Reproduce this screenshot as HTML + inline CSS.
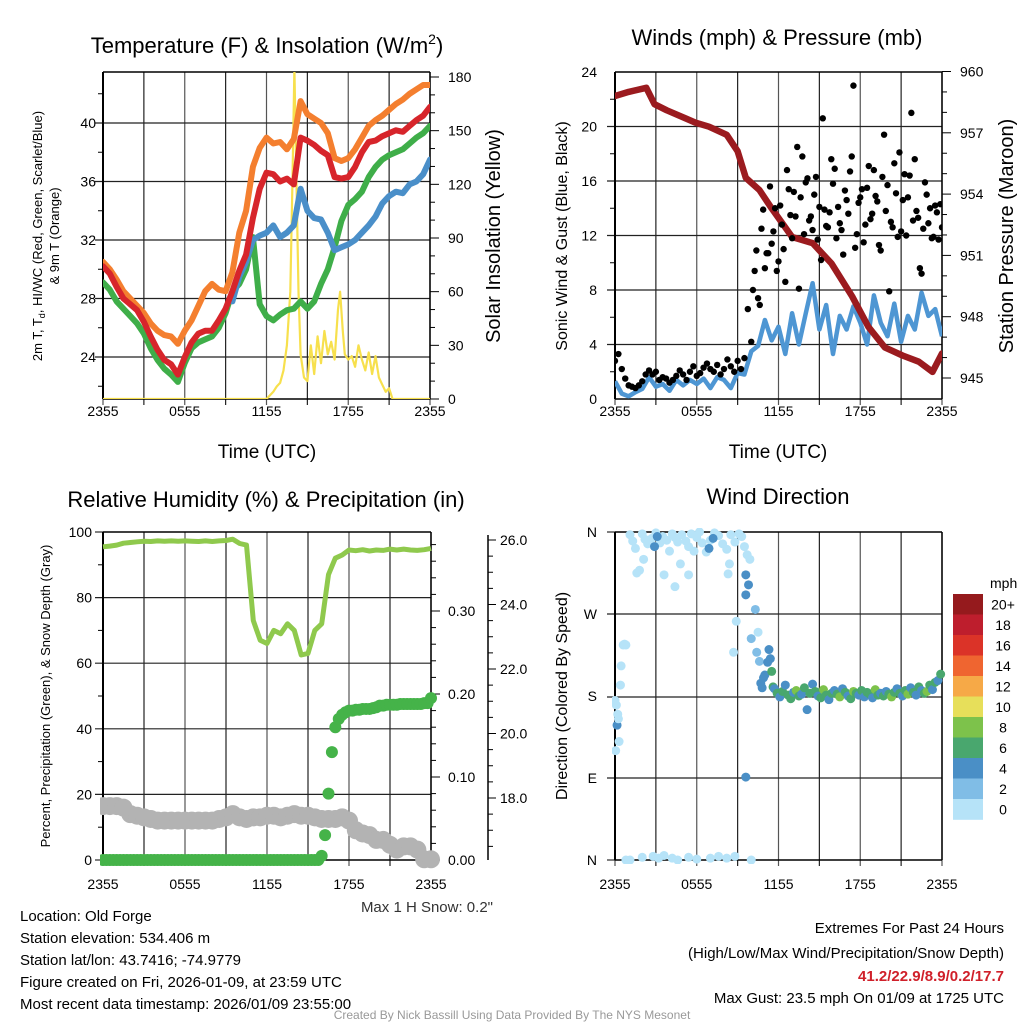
<!DOCTYPE html>
<html><head><meta charset="utf-8">
<style>
html,body{margin:0;padding:0;background:#fff;}
svg{display:block;font-family:"Liberation Sans",sans-serif;}
</style></head>
<body>
<svg id="chart" width="1024" height="1024" viewBox="0 0 1024 1024" xmlns="http://www.w3.org/2000/svg">
<defs>
<clipPath id="c1"><rect x="103" y="72" width="327" height="327"/></clipPath>
<clipPath id="c2"><rect x="615" y="72" width="327" height="327"/></clipPath>
<clipPath id="c3"><rect x="100" y="530" width="340" height="340"/></clipPath>
<clipPath id="c4"><rect x="612" y="528" width="335" height="336"/></clipPath>
</defs>
<g id="layer"></g>
<text x="267" y="53" font-size="22" text-anchor="middle">Temperature (F) &amp; Insolation (W/m<tspan dy="-9" font-size="14">2</tspan><tspan dy="9">)</tspan></text>
<text x="777" y="45" font-size="22" text-anchor="middle">Winds (mph) &amp; Pressure (mb)</text>
<text x="266" y="507" font-size="22" text-anchor="middle">Relative Humidity (%) &amp; Precipitation (in)</text>
<text x="778" y="504" font-size="22" text-anchor="middle">Wind Direction</text>
<text x="267" y="458" font-size="19" text-anchor="middle">Time (UTC)</text>
<text x="778" y="458" font-size="19" text-anchor="middle">Time (UTC)</text>
<text transform="translate(42,236) rotate(-90)" font-size="13" text-anchor="middle">2m T, T<tspan dy="3" font-size="9">d</tspan><tspan dy="-3">, HI/WC (Red, Green, Scarlet/Blue)</tspan></text>
<text transform="translate(59,236) rotate(-90)" font-size="13" text-anchor="middle">&amp; 9m T (Orange)</text>
<text transform="translate(500,236) rotate(-90)" font-size="20" text-anchor="middle">Solar Insolation (Yellow)</text>
<text transform="translate(567,236) rotate(-90)" font-size="16" text-anchor="middle">Sonic Wind &amp; Gust (Blue, Black)</text>
<text transform="translate(1013,236) rotate(-90)" font-size="20" text-anchor="middle">Station Pressure (Maroon)</text>
<text transform="translate(50,696) rotate(-90)" font-size="13" text-anchor="middle">Percent, Precipitation (Green), &amp; Snow Depth (Gray)</text>
<text transform="translate(567,696) rotate(-90)" font-size="16" text-anchor="middle">Direction (Colored By Speed)</text>
<text x="493" y="912" font-size="15" fill="#333" text-anchor="end">Max 1 H Snow: 0.2"</text>
<g font-size="15">
<text x="20" y="921">Location: Old Forge</text>
<text x="20" y="943">Station elevation: 534.406 m</text>
<text x="20" y="965">Station lat/lon: 43.7416; -74.9779</text>
<text x="20" y="987">Figure created on Fri, 2026-01-09, at 23:59 UTC</text>
<text x="20" y="1009">Most recent data timestamp: 2026/01/09 23:55:00</text>
</g>
<g font-size="15" text-anchor="end">
<text x="1004" y="933">Extremes For Past 24 Hours</text>
<text x="1004" y="958">(High/Low/Max Wind/Precipitation/Snow Depth)</text>
<text x="1004" y="981" fill="#d0202a" font-weight="bold">41.2/22.9/8.9/0.2/17.7</text>
<text x="1004" y="1003">Max Gust: 23.5 mph On 01/09 at 1725 UTC</text>
</g>
<text x="512" y="1019" font-size="12" fill="#999" text-anchor="middle">Created By Nick Bassill Using Data Provided By The NYS Mesonet</text>
</svg>
<script>
// ---------- data ----------
const xTickLabels = ["2355","0555","1155","1755","2355"];
const halfHours = [0,0.5,1,1.5,2,2.5,3,3.5,4,4.5,5,5.5,6,6.5,7,7.5,8,8.5,9,9.5,10,10.5,11,11.5,12,12.5,13,13.5,14,14.5,15,15.5,16,16.5,17,17.5,18,18.5,19,19.5,20,20.5,21,21.5,22,22.5,23,23.5,24];
const temp9m = [30.5,30,29.3,28.5,28,27.5,27,26.3,25.8,25.5,25.4,24.9,25.8,26.5,27.5,28.5,29,28.6,28.5,29.8,32.5,34,37,38.3,39,38.6,38.7,38.2,38.9,41.5,40.6,40.3,40,39.3,37.6,37.4,37.6,38.2,39,39.8,40.2,40.5,40.9,41.3,41.6,42,42.3,42.6,42.6];
const temp2m = [30.2,29.7,28.8,28,27.6,27.2,26.4,25.4,24.5,23.8,23.5,22.8,24,25,25.6,25.8,25.8,26.5,27.3,28.5,29.9,31,33.5,35.5,36.6,36.5,36,36.2,35.8,39,38.8,38.5,38.1,37.8,36.3,36.2,36.3,37,38,38.7,38.8,39.1,39.3,39.5,39.4,39.8,40.2,40.5,41.1];
const dewpoint = [29.1,28.6,27.8,27.3,26.8,26.3,25.6,24.6,23.8,23.2,22.8,22.3,23.6,24.6,25,25.2,25.4,26,27,28.5,29,30,32.2,27.6,26.8,26.5,26.9,27.2,27.3,27.8,27.3,27.8,29,30,31.5,33.3,34.4,34.8,35.3,36.3,37,37.5,37.8,38,38.2,38.6,39,39.3,39.8];
const windChill = [null,null,null,null,null,null,null,null,null,null,null,null,null,null,null,null,null,null,null,27.8,29.5,30.5,32,32.3,32.5,33,32.2,32.5,33,35.5,34,33.5,33.4,32.5,31.3,31.5,31.7,32,32.5,33,33.6,34.5,35,35.3,35.2,35.8,36,36.5,37.5];
const solarHours = [0,12,12.25,12.5,12.75,13,13.25,13.5,13.75,13.9,14.05,14.2,14.35,14.5,14.75,15,15.25,15.5,15.75,16,16.25,16.5,16.75,17,17.25,17.4,17.6,17.75,18,18.25,18.5,18.75,19,19.25,19.5,19.75,20,20.25,20.5,20.75,21,21.25,21.5,24];
const solar = [0,0,2,4,7,9,16,30,60,120,185,120,60,25,12,10,30,14,35,20,38,25,32,22,50,60,38,25,22,24,18,30,22,16,26,14,24,12,8,4,6,0,0,0];
const windSpeed = [1.3,0.4,0.2,0.5,0.75,1.6,0.9,1.1,0.6,1.4,1.0,1.4,1.1,1.5,0.8,1.6,1.4,0.8,1.9,1.8,3.5,3.9,5.8,4.3,5.3,3.3,6.3,4.0,6.3,8.5,5.1,6.9,3.3,6.1,5.1,6.8,5.6,4.0,7.6,5.6,4.6,7.0,4.2,6.1,5.1,7.8,6.1,6.6,4.6];
const pressureHours = [0,1,2.3,2.9,3.8,5.2,5.9,6.9,8.2,9.0,9.6,10.6,11.5,13.0,14.5,15.9,17.4,18.6,19.8,21.1,22.3,23.3,24];
const pressure = [958.8,959.0,959.2,958.4,958.1,957.7,957.5,957.3,956.9,956.1,954.8,954.2,953.3,951.9,951.6,950.6,949.0,947.5,946.5,946.1,945.8,945.3,946.2];
const gustHours1 = [0,0.25,0.5,0.75,1,1.25,1.5,1.75,2,2.25,2.5,2.75,3,3.25,3.5,3.75,4,4.25,4.5,4.75,5,5.25,5.5,5.75,6,6.25,6.5,6.75,7,7.25,7.5,7.75,8,8.25,8.5,8.75,9,9.25,9.5,9.75,10,10.25,10.5,10.75,11,11.25,11.5,11.75,12,12.25,12.5,12.75,13,13.25,13.5,13.75,14,14.25,14.5,14.75,15,15.25,15.5,15.75,16,16.25,16.5,16.75,17,17.25,17.5,17.75,18,18.25,18.5,18.75,19,19.25,19.5,19.75,20,20.25,20.5,20.75,21,21.25,21.5,21.75,22,22.25,22.5,22.75,23,23.25,23.5,23.75,24];
const gust1 = [2.8,3.3,2.2,1.5,1.0,0.9,0.8,1.0,1.3,1.8,2.1,1.8,2.0,1.4,1.6,1.5,1.2,1.4,1.7,2.1,1.8,1.4,2.0,2.4,1.7,1.9,2.3,2.6,2.2,2.0,2.5,1.8,2.2,2.9,2.4,2.0,2.8,2.2,3.0,6.6,4.2,9.4,7.4,12.5,9.6,10.7,11.4,14.0,10.1,12.8,8.6,15.4,11.8,13.4,8.1,17.8,15.9,13.1,12.4,16.3,14.1,20.6,12.7,13.7,15.8,11.8,12.9,10.6,14.6,16.7,23.0,12.1,14.8,11.5,15.5,13.2,16.8,14.5,10.9,19.4,15.7,13.0,17.3,11.9,12.3,16.5,14.8,21.0,17.6,13.3,9.2,15.9,12.9,11.8,14.2,11.7,12.6];
const gustHours2 = [10.125,10.375,10.625,10.875,11.125,11.375,11.625,11.875,12.125,12.375,12.625,12.875,13.125,13.375,13.625,13.875,14.125,14.375,14.625,14.875,15.125,15.375,15.625,15.875,16.125,16.375,16.625,16.875,17.125,17.375,17.625,17.875,18.125,18.375,18.625,18.875,19.125,19.375,19.625,19.875,20.125,20.375,20.625,20.875,21.125,21.375,21.625,21.875,22.125,22.375,22.625,22.875,23.125,23.375,23.625,23.875];
const gust2 = [8.0,10.9,6.9,13.9,10.7,15.6,12.3,9.4,14.2,11.0,16.8,13.5,15.2,18.5,14.8,12.1,16.2,13.4,15.0,11.7,10.2,13.9,12.6,17.6,16.9,14.1,12.4,15.3,13.6,17.8,11.1,14.4,15.4,12.8,17.1,13.6,14.9,11.3,16.3,13.8,7.9,12.6,15.1,18.1,14.6,12.0,16.4,13.1,13.8,9.6,12.5,15.0,14.0,11.9,13.7,14.3];
const rh = [95.5,95.7,96,96.6,96.8,97,97.2,97.1,97.3,97.2,97.3,97.2,97.3,97.2,97.1,97.3,97.1,97.3,97.4,97.8,96.5,96,73,67,66,70,69,72,70,62.5,63,70,72,87,92,93,94.5,94.3,94.6,94.2,94.5,94.4,94.8,94.5,94.8,94.5,94.4,94.6,95];
const snowDepth = [17.75,17.75,17.75,17.7,17.5,17.45,17.4,17.35,17.3,17.3,17.3,17.3,17.3,17.3,17.3,17.3,17.3,17.35,17.4,17.5,17.4,17.35,17.4,17.4,17.45,17.45,17.4,17.45,17.5,17.45,17.45,17.4,17.35,17.35,17.35,17.4,17.3,17.0,16.9,16.85,16.7,16.7,16.55,16.4,16.5,16.5,16.4,16.1,16.1];
const precip = [0,0,0,0,0,0,0,0,0,0,0,0,0,0,0,0,0,0,0,0,0,0,0,0,0,0,0,0,0,0,0,0,0,0,0,0,0,0,0,0,0,0,0,0,0,0,0,0,0,0,0,0,0,0,0,0,0,0,0,0,0,0,0,0,0.005,0.03,0.08,0.13,0.16,0.17,0.175,0.178,0.18,0.18,0.181,0.181,0.182,0.182,0.182,0.183,0.184,0.186,0.186,0.187,0.187,0.187,0.187,0.188,0.188,0.188,0.188,0.188,0.188,0.188,0.189,0.189,0.195];
const dirHours = [0.0,0.1,0.15,0.2,0.25,0.3,0.05,0.4,0.45,0.6,0.7,0.8,
1.1,1.3,1.5,2.0,2.2,2.4,2.7,3.0,3.3,3.5,3.8,4.0,4.2,4.4,4.6,4.9,5.2,5.4,5.6,5.8,6.0,6.2,6.4,6.7,7.0,7.3,7.6,7.9,8.2,8.5,8.8,9.1,9.3,9.5,9.7,9.9,8.4,4.8,3.6,5.4,2.1,1.8,1.6,4.4,8.3,10.0,8.9,8.7,
3.1,2.9,7.2,6.9,9.6,9.8,9.6,9.6,
0.8,1.1,2.0,2.8,3.2,3.6,4.2,4.6,5.4,6.0,7.0,7.6,8.2,8.8,10.0,
10.3,10.5,10.4,10.6,11.3,11.4,11.2,11.0,10.9,10.7,10.8,11.5,11.6,
11.7,11.9,12.1,12.3,12.5,12.7,12.9,13.1,13.3,13.5,13.7,13.9,14.1,14.3,14.5,14.7,14.9,15.1,15.3,15.5,15.7,15.9,16.1,16.3,16.5,16.7,16.9,17.1,17.3,17.5,17.7,17.9,18.1,18.3,18.5,18.7,18.9,19.1,19.3,19.5,19.7,19.9,20.1,20.3,20.5,20.7,20.9,21.1,21.3,21.5,21.7,21.9,22.1,22.3,22.5,22.7,22.9,23.1,23.3,23.5,23.7,23.9];
const dirDeg = [175,170,148,160,155,130,120,192,213,236,237,236,
357,350,342,358,352,347,353,359,348,355,351,339,358,354,349,357,350,344,358,339,354,360,348,338,351,359,356,347,341,357,349,358,355,344,335,330,325,325,313,313,330,318,315,300,314,243,262,228,
355,344,353,342,313,302,291,91,
0,0,3,4,2,5,2,0,3,1,2,4,2,4,0,
275,250,228,218,231,221,217,203,200,194,189,207,190,
188,183,179,185,192,181,177,184,186,180,182,189,165,183,193,185,180,178,187,181,176,183,186,182,179,188,184,180,177,185,183,181,186,179,184,182,178,187,181,183,180,185,182,179,184,188,183,180,186,182,189,184,181,190,186,183,185,192,187,195,197,204];
const dirSpeed = [0,0,4,0,0,0,0,0,0,0,0,0,
0,0,0,0,0,0,0,0,0,0,0,0,0,0,0,0,0,0,0,0,0,0,0,0,0,0,0,0,0,0,0,0,0,0,0,0,0,0,0,0,0,0,0,0,0,2,0,0,
4,4,4,4,4,4,4,4,
0,0,0,0,0,0,0,0,0,0,0,0,0,0,0,
2,0,2,2,4,4,4,4,4,4,4,6,6,
4,6,4,6,4,6,6,4,8,6,4,6,4,6,4,6,4,6,8,6,4,6,4,6,8,4,6,4,6,8,6,4,6,4,6,6,4,8,6,4,6,4,6,8,6,4,6,4,6,8,4,6,4,6,4,6,8,6,4,6,4,6];
const speedLevels = ["20+","18","16","14","12","10","8","6","4","2","0"];
const speedColors = ["#951a1d","#be1e2d","#db3328","#ef6530","#f6a947","#e7df5a","#7dc24b","#49a76e","#4a8fc6","#80bde6","#b6e3f8"];

// ---------- helpers ----------
const NS="http://www.w3.org/2000/svg";
const layer=document.getElementById('layer');
function mk(tag,attrs,parent){const e=document.createElementNS(NS,tag);for(const k in attrs)e.setAttribute(k,attrs[k]);(parent||layer).appendChild(e);return e;}
function linScale(d0,d1,r0,r1){return v=>r0+(v-d0)*(r1-r0)/(d1-d0);}
function pathFrom(xs,ys,sx,sy){let d="",pen=false;for(let i=0;i<xs.length;i++){if(ys[i]===null){pen=false;continue;}d+=(pen?"L":"M")+sx(xs[i]).toFixed(1)+","+sy(ys[i]).toFixed(1);pen=true;}return d;}

function frame(x0,y0,x1,y1,hTicks,name,labOff){
  const g=mk('g',{});
  
  
  for(let k=0;k<=8;k++){const x=x0+(x1-x0)*k/8;mk('line',{x1:x,y1:y0,x2:x,y2:y1+6,stroke:k%2?'#222':'#555','stroke-width':1.2},g);}
  hTicks.forEach(y=>mk('line',{x1:x0-8,y1:y,x2:x1,y2:y,stroke:'#222','stroke-width':1.2},g));
  mk('line',{x1:x0,y1:y0,x2:x1,y2:y0,stroke:'#000','stroke-width':1.5},g);
  mk('line',{x1:x0,y1:y1,x2:x1,y2:y1,stroke:'#000','stroke-width':1.5},g);
  mk('line',{x1:x0,y1:y0,x2:x0,y2:y1,stroke:'#000','stroke-width':2},g);
  mk('line',{x1:x1,y1:y0,x2:x1,y2:y1,stroke:'#000','stroke-width':1.5},g);
  xTickLabels.forEach((t,k)=>{const tx=mk('text',{x:x0+(x1-x0)*k/4,y:y1+labOff,'font-size':14,'text-anchor':'middle'},g);tx.textContent=t;});
  return g;
}
function leftLabels(x,vals,sy,fmt,name){vals.forEach(v=>{const t=mk('text',{x:x,y:sy(v)+5,'font-size':14,'text-anchor':'end'});t.textContent=fmt(v);});}
function rightAxis(x,vals,sy,fmt,minor,name,lx){
  minor.forEach(v=>mk('line',{x1:x,y1:sy(v),x2:x+5,y2:sy(v),stroke:'#000'}));
  vals.forEach(v=>{mk('line',{x1:x,y1:sy(v),x2:x+9,y2:sy(v),stroke:'#000'});const t=mk('text',{x:lx,y:sy(v)+5,'font-size':14});t.textContent=fmt(v);});
}

// ---------- panel 1 ----------
{
 const sx=linScale(0,24,103,430), sy=linScale(24,40,357,123), ss=linScale(0,180,399,77);
 frame(103,72,430,399,[123,181.5,240,298.5,357],'temperature-panel',17);
 [22,26,30,34,38,42].forEach(v=>mk('line',{x1:98,y1:sy(v),x2:103,y2:sy(v),stroke:'#000'}));
 leftLabels(96,[24,28,32,36,40],sy,v=>v,'temp-tick-label');
 rightAxis(430,[0,30,60,90,120,150,180],ss,v=>v,[10,20,40,50,70,80,100,110,130,140,160,170],'solar-tick-label',448);
 const cg=mk('g',{'clip-path':'url(#c1)'});
 const s1=mk('path',{d:pathFrom(solarHours,solar,sx,ss),fill:'none',stroke:'#f7e04d','stroke-width':2.2,'stroke-linejoin':'round'},cg);
 
 const series=[[dewpoint,'#3fae49','dewpoint-line'],[windChill,'#4a8fc9','wind-chill-line'],[temp9m,'#f47f2f','temp-9m-line'],[temp2m,'#d7252b','temp-2m-line']];
 series.forEach(([d,c,n])=>{const p=mk('path',{d:pathFrom(halfHours,d,sx,sy),fill:'none',stroke:c,'stroke-width':6,'stroke-linejoin':'round','stroke-linecap':'round'},cg);});
}
// ---------- panel 2 ----------
{
 const sx=linScale(0,24,615,942), sy=linScale(0,24,399,72), sp=linScale(945,960,378,71.5);
 frame(615,72,942,399,[126.5,181,235.5,290,344.5],'winds-panel',17);
 [2,6,10,14,18,22].forEach(v=>mk('line',{x1:610,y1:sy(v),x2:615,y2:sy(v),stroke:'#000'}));
 leftLabels(597,[0,4,8,12,16,20,24],sy,v=>v,'wind-tick-label');
 rightAxis(942,[945,948,951,954,957,960],sp,v=>v,[946,947,949,950,952,953,955,956,958,959],'pressure-tick-label',960);
 const cg=mk('g',{'clip-path':'url(#c2)'});
 const w=mk('path',{d:pathFrom(halfHours,windSpeed,sx,sy),fill:'none',stroke:'#4e96d3','stroke-width':4.5,'stroke-linejoin':'round'},cg);
 
 const pr=mk('path',{d:pathFrom(pressureHours,pressure,sx,sp),fill:'none',stroke:'#9b1b1f','stroke-width':6.5,'stroke-linejoin':'round','stroke-linecap':'round'},cg);
 
 [[gustHours1,gust1],[gustHours2,gust2]].forEach(([hs,vs])=>hs.forEach((h,i)=>{const c=mk('circle',{cx:sx(h),cy:sy(vs[i]),r:3.2,fill:'#000'},cg);}));
}
// ---------- panel 3 ----------
{
 const sx=linScale(0,24,103,431), sy=linScale(0,100,860,532), sp=linScale(0,0.3,860,611), sn=linScale(18,26,798,540);
 frame(103,532,431,860,[597.6,663.2,728.8,794.4],'humidity-panel',29);
 mk('line',{x1:95,y1:860,x2:103,y2:860,stroke:'#000'});mk('line',{x1:95,y1:532,x2:103,y2:532,stroke:'#000'});
 [10,30,50,70,90].forEach(v=>mk('line',{x1:98,y1:sy(v),x2:103,y2:sy(v),stroke:'#000'}));
 leftLabels(92,[0,20,40,60,80,100],sy,v=>v,'percent-tick-label');
 rightAxis(431,[0,0.1,0.2,0.3],sp,v=>v.toFixed(2),[0.02,0.04,0.06,0.08,0.12,0.14,0.16,0.18,0.22,0.24,0.26,0.28,0.32,0.34,0.36,0.38],'precip-tick-label',448);
 mk('line',{x1:488,y1:535,x2:488,y2:860,stroke:'#000','stroke-width':1.5});
 [18,20,22,24,26].forEach(v=>{mk('line',{x1:488,y1:sn(v),x2:496,y2:sn(v),stroke:'#000'});const t=mk('text',{x:500,y:sn(v)+5,'font-size':14});t.textContent=v.toFixed(1);});
 [16.5,17,17.5,18.5,19,19.5,20.5,21,21.5,22.5,23,23.5,24.5,25,25.5].forEach(v=>mk('line',{x1:488,y1:sn(v),x2:493,y2:sn(v),stroke:'#000'}));
 const cg=mk('g',{'clip-path':'url(#c3)'});
 halfHours.forEach((h,i)=>{const c=mk('circle',{cx:sx(h),cy:sn(snowDepth[i]),r:9,fill:'#b3b3b3'},cg);});
 const r=mk('path',{d:pathFrom(halfHours,rh,sx,sy),fill:'none',stroke:'#8fc94d','stroke-width':5,'stroke-linejoin':'round'},cg);
 
 gustHours1.forEach((h,i)=>{const c=mk('circle',{cx:sx(h),cy:sp(precip[i]),r:6,fill:'#45b349'},cg);});
}
// ---------- panel 4 ----------
{
 const sx=linScale(0,24,615,942), sy=linScale(0,360,860,532);
 frame(615,532,942,860,[614,697,778],'direction-panel',29);
 mk('line',{x1:607,y1:532,x2:615,y2:532,stroke:'#000'});mk('line',{x1:607,y1:860,x2:615,y2:860,stroke:'#000'});
 [[360,'N'],[270,'W'],[180,'S'],[90,'E'],[0,'N']].forEach(([v,l])=>{const t=mk('text',{x:597,y:sy(v)+5,'font-size':14,'text-anchor':'end'});t.textContent=l;});
 const cg=mk('g',{'clip-path':'url(#c4)'});
 const colorFor=s=>speedColors[10-Math.min(10,Math.floor(s/2))];
 dirHours.forEach((h,i)=>{const c=mk('circle',{cx:sx(h),cy:sy(dirDeg[i]),r:4.5,fill:colorFor(dirSpeed[i])},cg);});
 const lt=mk('text',{x:990,y:588,'font-size':14});lt.textContent='mph';
 const bh=20.5;
 speedLevels.forEach((lab,k)=>{const rc=mk('rect',{x:953,y:594+k*bh,width:30,height:bh+0.3,fill:speedColors[k]});
  const t=mk('text',{x:1003,y:594+k*bh+bh/2+5,'font-size':14,'text-anchor':'middle'});t.textContent=lab;});
}
</script>
</body></html>
